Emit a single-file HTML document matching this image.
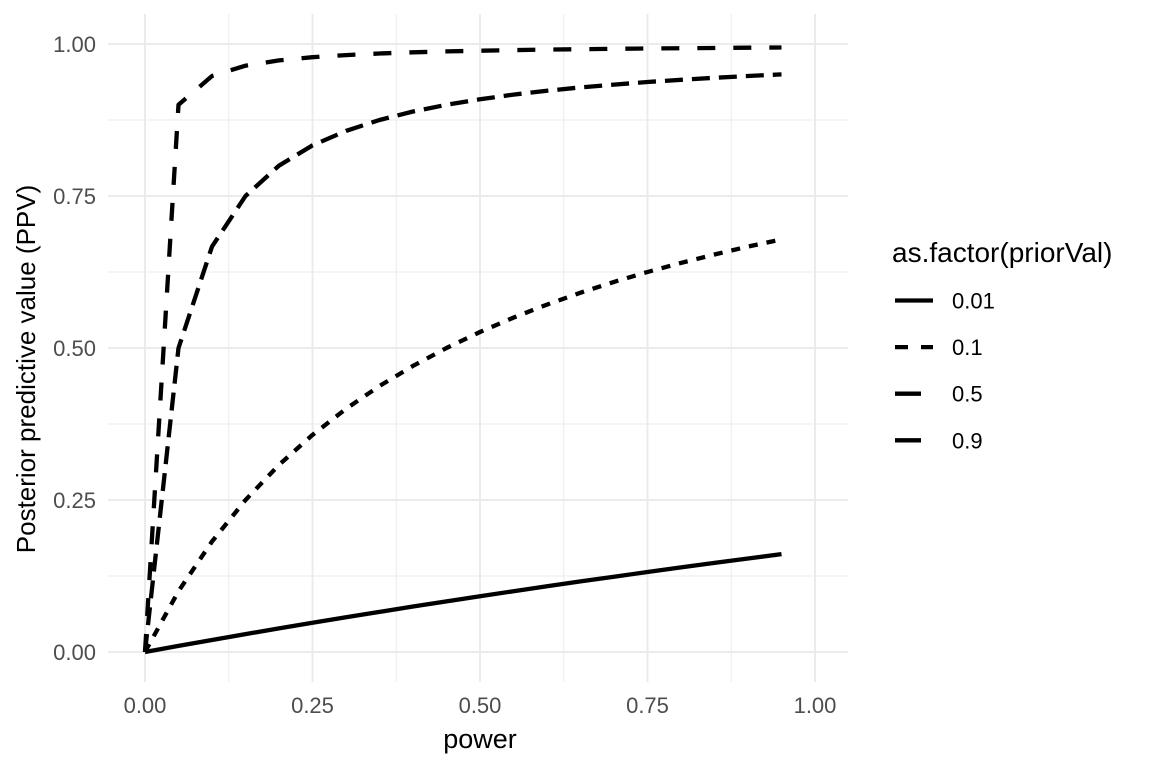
<!DOCTYPE html>
<html><head><meta charset="utf-8">
<style>
body{margin:0;background:#fff;}
svg{display:block;font-family:"Liberation Sans",sans-serif;}
</style></head>
<body>
<svg id="chart" width="1152" height="768">
<g id="grid"></g>
<g id="series"></g>
<g id="axes"></g>
<text x="480" y="748" text-anchor="middle" font-size="27" fill="#000">power</text>
<text transform="translate(35,369) rotate(-90)" text-anchor="middle" font-size="26" fill="#000">Posterior predictive value (PPV)</text>
<g id="legend">
<text x="892" y="262" font-size="28" fill="#000">as.factor(priorVal)</text>
</g>
</svg>
<script>
const power = [0,0.05,0.1,0.15,0.2,0.25,0.3,0.35,0.4,0.45,0.5,0.55,0.6,0.65,0.7,0.75,0.8,0.85,0.9,0.95];
const ppv001 = [0,0.0101,0.0198,0.0294,0.0388,0.0481,0.0571,0.0660,0.0748,0.0833,0.0917,0.1,0.1081,0.1161,0.1239,0.1316,0.1391,0.1466,0.1538,0.1610];
const ppv01 = [0,0.1,0.1818,0.25,0.3077,0.3571,0.4,0.4375,0.4706,0.5,0.5263,0.55,0.5714,0.5909,0.6087,0.625,0.64,0.6538,0.6667,0.6786];
const ppv05 = [0,0.5,0.6667,0.75,0.8,0.8333,0.8571,0.875,0.8889,0.9,0.9091,0.9167,0.9231,0.9286,0.9333,0.9375,0.9412,0.9444,0.9474,0.95];
const ppv09 = [0,0.9,0.9474,0.9643,0.9730,0.9783,0.9818,0.9844,0.9863,0.9878,0.9890,0.99,0.9908,0.9915,0.9921,0.9926,0.9931,0.9935,0.9939,0.9942];
const seriesLabels = ["0.01","0.1","0.5","0.9"];
const xTicks = [0,0.25,0.5,0.75,1];
const xTickLabels = ["0.00","0.25","0.50","0.75","1.00"];
const yTicks = [0,0.25,0.5,0.75,1];
const yTickLabels = ["0.00","0.25","0.50","0.75","1.00"];

const NS="http://www.w3.org/2000/svg";
const X0=108,X1=848,Y0=14,Y1=682;
const sx=v=>145+v*670;
const sy=v=>652-v*608;
function mk(tag,attrs,parent){const e=document.createElementNS(NS,tag);for(const k in attrs)e.setAttribute(k,attrs[k]);parent.appendChild(e);return e;}
const grid=document.getElementById('grid'),axes=document.getElementById('axes'),ser=document.getElementById('series'),leg=document.getElementById('legend');
for(let i=0;i<xTicks.length-1;i++){
  const m=(xTicks[i]+xTicks[i+1])/2;
  const l=mk('line',{x1:sx(m),x2:sx(m),y1:Y0,y2:Y1,stroke:'#ebebeb','stroke-width':1},grid);
  
  
  const m2=(yTicks[i]+yTicks[i+1])/2;
  const l2=mk('line',{x1:X0,x2:X1,y1:sy(m2),y2:sy(m2),stroke:'#ebebeb','stroke-width':1},grid);
  
  
}
xTicks.forEach((t,i)=>{
  const l=mk('line',{x1:sx(t),x2:sx(t),y1:Y0,y2:Y1,stroke:'#ebebeb','stroke-width':2},grid);
  
  
  const tx=mk('text',{x:sx(t),y:713,'text-anchor':'middle','font-size':22,fill:'#4d4d4d'},axes);
  tx.textContent=xTickLabels[i];
  
  
});
yTicks.forEach((t,i)=>{
  const l=mk('line',{x1:X0,x2:X1,y1:sy(t),y2:sy(t),stroke:'#ebebeb','stroke-width':2},grid);
  
  
  const tx=mk('text',{x:96,y:sy(t)+8,'text-anchor':'end','font-size':22,fill:'#4d4d4d'},axes);
  tx.textContent=yTickLabels[i];
  
  
});
const allSeries=[ppv001,ppv01,ppv05,ppv09];
const dashes=['none','9 9','18 9','18 18'];
const legDashes=['none','13 13','26 13','26 26'];
allSeries.forEach((vals,k)=>{
  const d=vals.map((v,i)=>(i?'L':'M')+sx(power[i]).toFixed(1)+','+sy(v).toFixed(1)).join(' ');
  const p=mk('path',{d:d,fill:'none',stroke:'#000','stroke-width':4.3,'stroke-dasharray':dashes[k],'stroke-linejoin':'round'},ser);
  
  
  const ly=300.5+k*46.6;
  const ll=mk('line',{x1:895,x2:933,y1:ly,y2:ly,stroke:'#000','stroke-width':4.3,'stroke-dasharray':legDashes[k]},leg);
  
  
  const lt=mk('text',{x:952,y:ly+8,'font-size':22,fill:'#000'},leg);
  lt.textContent=seriesLabels[k];
  
  
});
</script>
</body></html>
